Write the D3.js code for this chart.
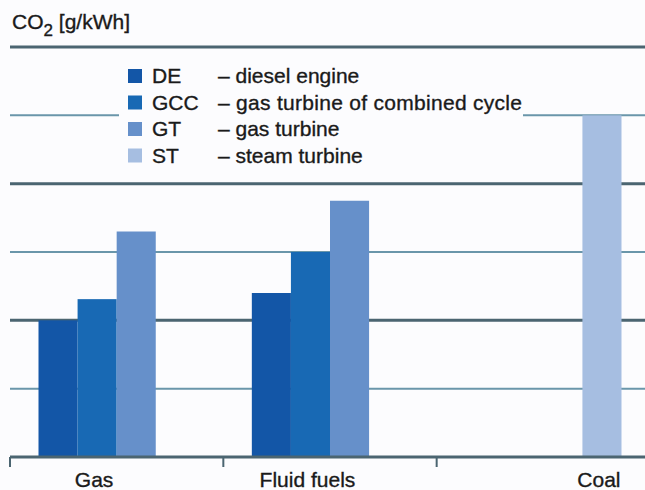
<!DOCTYPE html>
<html>
<head>
<meta charset="utf-8">
<script src="https://cdn.jsdelivr.net/npm/d3@7"></script>
<style>
body { margin: 0; background: #fcfcfe; }
svg { display: block; font-family: "Liberation Sans", Arial, sans-serif; }
svg text { stroke: #1a1a1a; stroke-width: 0.35px; }
</style>
</head>
<body>
<div class="featured"></div>
<script>
// data (g/kWh)
var groups = ["Gas", "Fluid fuels", "Coal"];
var series = ["DE", "GCC", "GT", "ST"];
var seriesNames = ["diesel engine", "gas turbine of combined cycle", "gas turbine", "steam turbine"];
var colors = ["#1356a7", "#1869b4", "#6690ca", "#a6bee1"];
var gasValues = [400, 462, 660, null];
var fluidValues = [480, 600, 750, null];
var coalValues = [null, null, null, 1000];
var gridValues = [200, 400, 600, 800, 1000, 1200];

var values = [gasValues, fluidValues, coalValues];

var width = 645, height = 490;
var svg = d3.select(".featured").append("svg")
	.attr("width", width).attr("height", height);

svg.append("rect").attr("width", width).attr("height", height).attr("fill", "#fcfcfe");

var x0 = d3.scaleBand().domain(groups).range([10, 650]);
var x1 = d3.scaleBand().domain(series).range([28.5, x0.bandwidth() - 28.5]);
var y = d3.scaleLinear().domain([0, 1200]).range([457, 47]);

// grid lines, every other one thicker
svg.append("g").selectAll("line")
	.data(gridValues)
	.enter().append("line")
	.attr("x1", 10).attr("x2", width)
	.attr("y1", function(d) { return y(d); })
	.attr("y2", function(d) { return y(d); })
	.attr("stroke", function(d) { return d % 400 === 0 ? "#4b6571" : "#6a96aa"; })
	.attr("stroke-width", function(d) { return d % 400 === 0 ? 3 : 2; });

// bars
var groupSel = svg.selectAll(".grp")
	.data(values)
	.enter().append("g")
	.attr("class", "grp")
	.attr("transform", function(d, i) { return "translate(" + x0(groups[i]) + ",0)"; });

groupSel.selectAll("rect")
	.data(function(d) {
		return d.map(function(v, j) { return {key: series[j], value: v, color: colors[j]}; })
			.filter(function(e) { return e.value !== null; });
	})
	.enter().append("rect")
	.attr("x", function(d) { return x1(d.key); })
	.attr("width", x1.bandwidth())
	.attr("y", function(d) { return y(d.value); })
	.attr("height", function(d) { return y(0) - y(d.value); })
	.attr("fill", function(d) { return d.color; });

// x axis
svg.append("line")
	.attr("x1", 10).attr("x2", width)
	.attr("y1", y(0)).attr("y2", y(0))
	.attr("stroke", "#4b6571").attr("stroke-width", 3);

svg.append("g").selectAll("line")
	.data(groups)
	.enter().append("line")
	.attr("x1", function(d) { return x0(d); })
	.attr("x2", function(d) { return x0(d); })
	.attr("y1", y(0)).attr("y2", y(0) + 10)
	.attr("stroke", "#4b6571").attr("stroke-width", 2);

// group labels centred under the bars that exist
svg.append("g").selectAll("text")
	.data(groups)
	.enter().append("text")
	.attr("x", function(d, i) {
		var cs = [];
		values[i].forEach(function(v, j) {
			if (v !== null) cs.push(x0(d) + x1(series[j]) + x1.bandwidth() / 2);
		});
		return d3.mean(cs) - 3;
	})
	.attr("y", 487)
	.attr("text-anchor", "middle")
	.attr("font-size", 21)
	.attr("fill", "#1a1a1a")
	.text(function(d) { return d; });

// title
var title = svg.append("text").attr("x", 12).attr("y", 29)
	.attr("font-size", 21).attr("fill", "#1a1a1a");
title.append("tspan").text("CO");
title.append("tspan").attr("font-size", 17).attr("dy", 7).text("2");
title.append("tspan").attr("dy", -7).text(" [g/kWh]");

// legend
svg.append("rect")
	.attr("x", 119).attr("y", 62).attr("width", 404).attr("height", 106)
	.attr("fill", "#fcfcfe").attr("stroke", "none");

var legend = svg.append("g").selectAll("g")
	.data(series)
	.enter().append("g")
	.attr("transform", function(d, i) { return "translate(128," + (76 + i * 26.5) + ")"; });

legend.append("rect")
	.attr("x", 0).attr("y", -7).attr("width", 14).attr("height", 14)
	.attr("fill", function(d, i) { return colors[i]; });

legend.append("text")
	.attr("x", 24).attr("y", 7)
	.attr("font-size", 21).attr("fill", "#1a1a1a")
	.text(function(d) { return d; });

legend.append("text")
	.attr("x", 90).attr("y", 7)
	.attr("font-size", 21).attr("fill", "#1a1a1a")
	.attr("textLength", 304).attr("lengthAdjust", "spacing")
	.text(function(d, i) { return "\u2013 " + seriesNames[i]; })
	.attr("textLength", function(d, i) { return i === 1 ? 304 : null; });
</script>
</body>
</html>
